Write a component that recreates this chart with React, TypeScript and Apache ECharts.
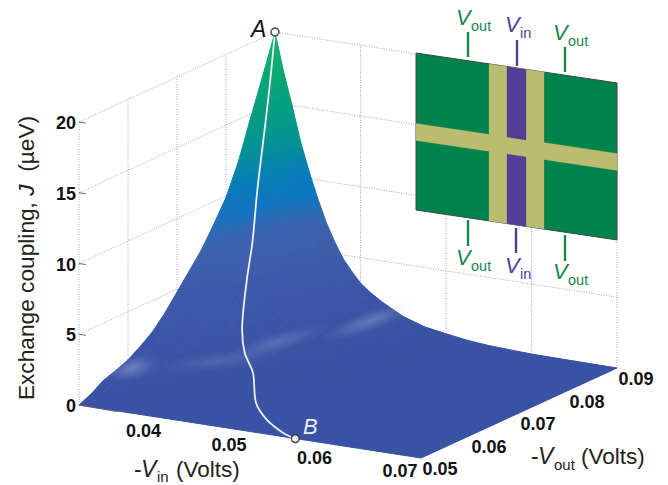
import React, { useEffect, useRef } from "react";
import * as echarts from "echarts";

// Axis values of the surface grid
const vinValues = [0.03, 0.031, 0.032, 0.033, 0.034, 0.035, 0.036, 0.037, 0.038, 0.039, 0.04, 0.041, 0.0425, 0.045, 0.0475, 0.05, 0.0525, 0.055, 0.06, 0.065, 0.07];
const voutValues = [0.05, 0.0525, 0.055, 0.0575, 0.06, 0.0625, 0.065, 0.0675, 0.07, 0.0725, 0.075, 0.0775, 0.08, 0.0825, 0.085, 0.0875, 0.09];

// Exchange coupling J, one row per Vout, one column per Vin
const jRow0500 = [0, 0, 0, 0, 0, 0, 0, 0, 0, 0, 0, 0, 0, 0, 0, 0, 0, 0, 0, 0, 0];
const jRow0525 = [0.4, 0.35, 0.3, 0.25, 0.21, 0.17, 0.14, 0.12, 0.09, 0.08, 0.06, 0.05, 0.04, 0.03, 0.02, 0.01, 0.01, 0, 0, 0, 0];
const jRow0550 = [0.95, 0.82, 0.71, 0.59, 0.5, 0.41, 0.34, 0.28, 0.22, 0.19, 0.15, 0.13, 0.1, 0.06, 0.04, 0.03, 0.02, 0.01, 0, 0, 0];
const jRow0575 = [1.25, 1.08, 0.94, 0.78, 0.66, 0.54, 0.44, 0.36, 0.29, 0.24, 0.2, 0.17, 0.13, 0.08, 0.05, 0.03, 0.02, 0.01, 0, 0, 0];
const jRow0600 = [1.6, 1.38, 1.2, 1, 0.84, 0.7, 0.57, 0.46, 0.38, 0.31, 0.26, 0.22, 0.17, 0.1, 0.06, 0.04, 0.03, 0.01, 0, 0, 0];
const jRow0625 = [2.15, 1.86, 1.61, 1.34, 1.13, 0.94, 0.76, 0.62, 0.51, 0.42, 0.34, 0.29, 0.23, 0.14, 0.09, 0.06, 0.03, 0.02, 0.01, 0, 0];
const jRow0650 = [2.8, 2.42, 2.1, 1.75, 1.47, 1.22, 0.99, 0.81, 0.66, 0.55, 0.45, 0.38, 0.29, 0.18, 0.11, 0.08, 0.04, 0.03, 0.01, 0, 0];
const jRow0675 = [3.7, 3.2, 2.78, 2.31, 1.94, 1.61, 1.31, 1.07, 0.87, 0.72, 0.59, 0.5, 0.39, 0.24, 0.15, 0.1, 0.06, 0.03, 0.01, 0, 0];
const jRow0700 = [4.8, 4.15, 3.6, 3, 2.52, 2.09, 1.7, 1.39, 1.13, 0.94, 0.77, 0.65, 0.5, 0.31, 0.19, 0.13, 0.08, 0.04, 0.01, 0, 0];
const jRow0725 = [5.9, 5.1, 4.43, 3.69, 3.1, 2.57, 2.09, 1.71, 1.39, 1.15, 0.94, 0.8, 0.62, 0.38, 0.24, 0.16, 0.09, 0.05, 0.01, 0.01, 0];
const jRow0750 = [7, 6.06, 5.25, 4.38, 3.68, 3.05, 2.49, 2.03, 1.65, 1.37, 1.12, 0.95, 0.74, 0.46, 0.28, 0.19, 0.11, 0.06, 0.02, 0.01, 0];
const jRow0775 = [8.4, 7.27, 6.3, 5.25, 4.41, 3.65, 2.98, 2.44, 1.97, 1.64, 1.34, 1.13, 0.88, 0.55, 0.34, 0.23, 0.13, 0.08, 0.02, 0.01, 0];
const jRow0800 = [9.9, 8.56, 7.43, 6.19, 5.2, 4.31, 3.51, 2.87, 2.33, 1.93, 1.58, 1.34, 1.04, 0.64, 0.4, 0.27, 0.16, 0.09, 0.02, 0.01, 0];
const jRow0825 = [12, 10.38, 9, 7.5, 6.3, 5.22, 4.26, 3.48, 2.82, 2.34, 1.92, 1.62, 1.26, 0.78, 0.48, 0.33, 0.19, 0.11, 0.03, 0.01, 0];
const jRow0850 = [14.7, 12.72, 11.03, 9.19, 7.72, 6.39, 5.22, 4.26, 3.45, 2.87, 2.35, 1.98, 1.54, 0.96, 0.59, 0.4, 0.24, 0.13, 0.04, 0.01, 0];
const jRow0875 = [17.3, 14.96, 12.98, 10.81, 9.08, 7.53, 6.14, 5.02, 4.07, 3.37, 2.77, 2.34, 1.82, 1.12, 0.69, 0.48, 0.28, 0.16, 0.04, 0.02, 0];
const jRow0900 = [20, 17.3, 15, 12.5, 10.5, 8.7, 7.1, 5.8, 4.7, 3.9, 3.2, 2.7, 2.1, 1.3, 0.8, 0.55, 0.32, 0.18, 0.05, 0.02, 0];
const jRows = [jRow0500, jRow0525, jRow0550, jRow0575, jRow0600, jRow0625, jRow0650, jRow0675, jRow0700, jRow0725, jRow0750, jRow0775, jRow0800, jRow0825, jRow0850, jRow0875, jRow0900];

// White trajectory A -> B on the surface
const pathVin = [0.03, 0.0303, 0.0307, 0.0316, 0.0343, 0.0357, 0.0375, 0.0389, 0.0413, 0.0456, 0.0494, 0.0532, 0.0553];
const pathVout = [0.09, 0.0883, 0.0864, 0.0836, 0.0779, 0.0743, 0.0702, 0.0683, 0.0658, 0.0589, 0.0545, 0.0512, 0.05];
const pathJ = [20, 16.2, 13, 10, 7.5, 5.5, 2.8, 1.6, 0.8, 0.2, 0.05, 0.01, 0];

// Axis ticks
const vinTicks = [0.04, 0.05, 0.06, 0.07];
const voutTicks = [0.05, 0.06, 0.07, 0.08, 0.09];
const jTicks = [0, 5, 10, 15, 20];
const vinGrid = [0.04, 0.05, 0.06, 0.07];
const voutGrid = [0.05, 0.06, 0.07, 0.08, 0.09];

// Projection of the 3D box to the hidden plane axes
const VIN0 = 0.03, VIN1 = 0.07, VOUT0 = 0.05, VOUT1 = 0.09, JMAX = 20;
const px = (vin: number, vout: number) => 79 + 8550 * (vin - VIN0) + 4900 * (vout - VOUT0);
const py = (vin: number, vout: number, j: number) => 405 + 1325 * (vin - VIN0) - 2250 * (vout - VOUT0) - 14.15 * j;
const P = (vin: number, vout: number, j: number) => [px(vin, vout), py(vin, vout, j)];

// Colour map of J
const colorStops: [number, number[]][] = [
  [0, [57, 82, 163]],
  [4, [60, 88, 168]],
  [7.2, [62, 98, 173]],
  [8.2, [45, 106, 183]],
  [9, [14, 118, 194]],
  [10.5, [8, 122, 188]],
  [12.5, [4, 145, 150]],
  [16, [4, 162, 122]],
  [20, [22, 180, 108]],
];
function colorOf(j: number) {
  for (let k = 1; k < colorStops.length; k++) {
    if (j <= colorStops[k][0]) {
      const [a, ca] = colorStops[k - 1];
      const [b, cb] = colorStops[k];
      const t = (j - a) / (b - a);
      const c = ca.map((v, n) => Math.round(v + (cb[n] - v) * t));
      return `rgb(${c[0]},${c[1]},${c[2]})`;
    }
  }
  const c = colorStops[colorStops.length - 1][1];
  return `rgb(${c[0]},${c[1]},${c[2]})`;
}

const FONT = '"Liberation Sans", Arial, sans-serif';
const GREEN = "#17884d";
const PURPLE = "#4f3f98";

function txt(x: number, base: number, text: string, size: number, fill: string, extra: any = {}) {
  return {
    type: "text",
    z: 20,
    x,
    y: base - 0.35 * size,
    silent: true,
    style: { text, fontFamily: FONT, fontSize: size, fill, align: "left", verticalAlign: "middle", ...extra },
  };
}

// Inset device schematic
const ix = (u: number) => 416 + u;
const iy = (u: number, v: number) => 53 + 0.149 * u + v;
function quad(u0: number, u1: number, v0: number, v1: number, fill: string, stroke?: string) {
  return {
    type: "polygon",
    z: 15,
    silent: true,
    shape: {
      points: [
        [ix(u0), iy(u0, v0)],
        [ix(u1), iy(u1, v0)],
        [ix(u1), iy(u1, v1)],
        [ix(u0), iy(u0, v1)],
      ],
    },
    style: { fill, stroke: stroke || fill, lineWidth: stroke ? 1 : 0.3 },
  };
}
function seg(x1: number, y1: number, x2: number, y2: number, stroke: string) {
  return { type: "line", z: 15, silent: true, shape: { x1, y1, x2, y2 }, style: { stroke, lineWidth: 2.4 } };
}

const insetGraphics: any[] = [
  quad(0, 201, 0, 157, "#00824b", "#3c4a44"),
  quad(73, 128, 0, 157, "#bcbc70"),
  quad(0, 201, 70.5, 87.5, "#bcbc70"),
  quad(91, 110, 0, 70.5, "#523e98"),
  quad(91, 110, 87.5, 157, "#523e98"),
  seg(468, 32, 468, 57, GREEN),
  seg(517, 40, 517, 66, PURPLE),
  seg(565, 47, 565, 72, GREEN),
  seg(468, 220, 468, 246, GREEN),
  seg(516, 228, 516, 253, PURPLE),
  seg(565, 235, 565, 261, GREEN),
];

function label(x: number, base: number, sub: string, fill: string) {
  return [
    txt(x - 1, base, "V", 22, fill, { fontStyle: "italic" }),
    txt(x + 14, base + 6, sub, 14.5, fill),
  ];
}
const textGraphics: any[] = [
  ...label(457, 25, "out", GREEN),
  ...label(506, 32, "in", PURPLE),
  ...label(554, 40, "out", GREEN),
  ...label(457, 265, "out", GREEN),
  ...label(506, 273, "in", PURPLE),
  ...label(554, 279, "out", GREEN),
  txt(251, 37, "A", 23, "#111", { fontStyle: "italic" }),
  txt(303, 434, "B", 22, "#e9edf7", { fontStyle: "italic" }),
  txt(134, 477, "-", 23, "#222"),
  txt(141, 477, "V", 23, "#222", { fontStyle: "italic" }),
  txt(157, 482, "in", 15, "#222"),
  txt(176, 477, "(Volts)", 22.5, "#222"),
  txt(531, 464, "-", 23, "#222"),
  txt(538, 464, "V", 23, "#222", { fontStyle: "italic" }),
  txt(554, 470, "out", 15, "#222"),
  txt(581, 464, "(Volts)", 22.5, "#222"),
  {
    type: "text",
    z: 20,
    x: 26,
    y: 258,
    rotation: Math.PI / 2,
    silent: true,
    style: {
      text: "{a|Exchange coupling, }{b|J}{a|  (µeV)}",
      align: "center",
      verticalAlign: "middle",
      fill: "#222",
      rich: {
        a: { fontFamily: FONT, fontSize: 22.7, fill: "#222" },
        b: { fontFamily: FONT, fontSize: 22.7, fontStyle: "italic", fill: "#222" },
      },
    },
  },
];

// Specular highlights across the surface
const shineBlobs = [
  { x: 132, y: 368, rx: 30, ry: 13, deg: 14, a: 0.38 },
  { x: 218, y: 361, rx: 64, ry: 10, deg: 7, a: 0.16 },
  { x: 278, y: 342, rx: 56, ry: 11, deg: 17, a: 0.24 },
  { x: 370, y: 321, rx: 54, ry: 11, deg: 20, a: 0.32 },
];

export default function App() {
  const ref = useRef<HTMLDivElement>(null);
  useEffect(() => {
    if (!ref.current) return;
    const chart = echarts.init(ref.current, undefined, { renderer: "svg" });

    const wallLines: number[][] = [];
    jTicks.forEach((j) => {
      wallLines.push([VIN0, VOUT0, j, VIN0, VOUT1, j]);
      wallLines.push([VIN0, VOUT1, j, VIN1, VOUT1, j]);
    });
    voutGrid.forEach((v) => wallLines.push([VIN0, v, 0, VIN0, v, JMAX]));
    vinGrid.forEach((v) => wallLines.push([v, VOUT1, 0, v, VOUT1, JMAX]));

    const tickLines: number[][] = jTicks.map((j) => [VIN0, VOUT0, j, VIN0 + 0.0008, VOUT0, j]);
    tickLines.push([VIN0, VOUT0, 0, VIN0 + 0.0045, VOUT0, -0.05]);

    const cells: number[][] = [];
    for (let a = 0; a < vinValues.length - 1; a++) {
      for (let b = voutValues.length - 2; b >= 0; b--) cells.push([a, b]);
    }

    const lineSeriesCustom = (data: number[][], stroke: string, dash: number[] | null, z: number, width = 1) => ({
      type: "custom",
      coordinateSystem: "cartesian2d",
      silent: true,
      clip: false,
      z,
      data,
      renderItem: (_: any, api: any) => {
        const p1 = api.coord(P(api.value(0), api.value(1), api.value(2)));
        const p2 = api.coord(P(api.value(3), api.value(4), api.value(5)));
        return {
          type: "line",
          shape: { x1: p1[0], y1: p1[1], x2: p2[0], y2: p2[1] },
          style: { stroke, lineWidth: width, lineDash: dash || undefined, fill: null },
        };
      },
    });

    const tickText = (data: number[][], dx: number, dy: number, decimals: number, align: string) => ({
      type: "custom",
      coordinateSystem: "cartesian2d",
      silent: true,
      clip: false,
      z: 12,
      data,
      renderItem: (_: any, api: any) => {
        const p = api.coord(P(api.value(0), api.value(1), api.value(2)));
        const v = api.value(3);
        return {
          type: "text",
          x: p[0] + dx,
          y: p[1] + dy,
          style: {
            text: v.toFixed(decimals),
            fontFamily: FONT,
            fontWeight: "bold",
            fontSize: 18,
            fill: "#111",
            align,
            verticalAlign: "middle",
          },
        };
      },
    });

    chart.setOption({
      animation: false,
      backgroundColor: "#fff",
      grid: { left: 0, right: 0, top: 0, bottom: 0 },
      xAxis: { type: "value", min: 0, max: 668, show: false },
      yAxis: { type: "value", min: 0, max: 485, inverse: true, show: false },
      graphic: { elements: [...insetGraphics, ...textGraphics] },
      series: [
        lineSeriesCustom(wallLines, "#a9a9a9", [1, 1.5], 1),
        lineSeriesCustom(tickLines, "#666", null, 4),
        {
          type: "custom",
          coordinateSystem: "cartesian2d",
          silent: true,
          clip: false,
          z: 2,
          data: cells,
          renderItem: (_: any, api: any) => {
            const a = api.value(0);
            const b = api.value(1);
            const corners = [
              [a, b],
              [a + 1, b],
              [a + 1, b + 1],
              [a, b + 1],
            ].map(([i, k]) => {
              const j = jRows[k][i];
              const c = api.coord(P(vinValues[i], voutValues[k], j));
              return { x: c[0], y: c[1], j };
            });
            const sorted = [...corners].sort((m, n) => m.y - n.y);
            const top = sorted[0];
            const bot = sorted[3];
            const mid = (top.j + bot.j) / 2;
            const fill = new echarts.graphic.LinearGradient(
              0,
              top.y,
              0,
              Math.max(bot.y, top.y + 0.5),
              [
                { offset: 0, color: colorOf(top.j) },
                { offset: 0.5, color: colorOf(mid) },
                { offset: 1, color: colorOf(bot.j) },
              ],
              true
            );
            return {
              type: "polygon",
              shape: { points: corners.map((c) => [c.x, c.y]) },
              style: { fill, stroke: fill, lineWidth: 1 },
            };
          },
        },
        {
          type: "custom",
          coordinateSystem: "cartesian2d",
          silent: true,
          clip: false,
          z: 3,
          data: shineBlobs.map((s) => [s.x, s.y, s.rx, s.ry, s.deg, s.a]),
          renderItem: (_: any, api: any) => {
            const c = api.coord([api.value(0), api.value(1)]);
            const a = api.value(5);
            return {
              type: "circle",
              x: c[0],
              y: c[1],
              rotation: (api.value(4) * Math.PI) / 180,
              scaleX: api.value(2) / 10,
              scaleY: api.value(3) / 10,
              shape: { cx: 0, cy: 0, r: 10 },
              style: {
                fill: new echarts.graphic.RadialGradient(0.5, 0.5, 0.5, [
                  { offset: 0, color: `rgba(190,195,232,${a})` },
                  { offset: 0.35, color: `rgba(190,195,232,${a * 0.6})` },
                  { offset: 0.7, color: `rgba(190,195,232,${a * 0.2})` },
                  { offset: 1, color: "rgba(190,195,232,0)" },
                ]),
              },
            };
          },
        },
        {
          type: "line",
          silent: true,
          z: 5,
          smooth: 0.3,
          symbol: "none",
          lineStyle: { color: "#eef0ee", width: 1.8 },
          data: pathVin.map((v, i) => P(v, pathVout[i], pathJ[i])),
        },
        {
          type: "scatter",
          silent: true,
          z: 6,
          symbol: "circle",
          symbolSize: 8,
          itemStyle: { color: "#fff", borderColor: "#222", borderWidth: 1.5 },
          data: [0, pathVin.length - 1].map((i) => P(pathVin[i], pathVout[i], pathJ[i])),
        },
        tickText(vinTicks.map((v) => [v, VOUT0, 0, v]), -21, 13, 2, "center"),
        tickText(voutTicks.map((v) => [VIN1, v, 0, v]), 19, 11, 2, "center"),
        tickText(jTicks.map((j) => [VIN0, VOUT0, j, j]), -3, 1, 0, "right"),
      ],
    });
    return () => chart.dispose();
  }, []);
  return <div ref={ref} style={{ position: "fixed", left: 0, top: 0, width: 668, height: 485 }} />;
}
